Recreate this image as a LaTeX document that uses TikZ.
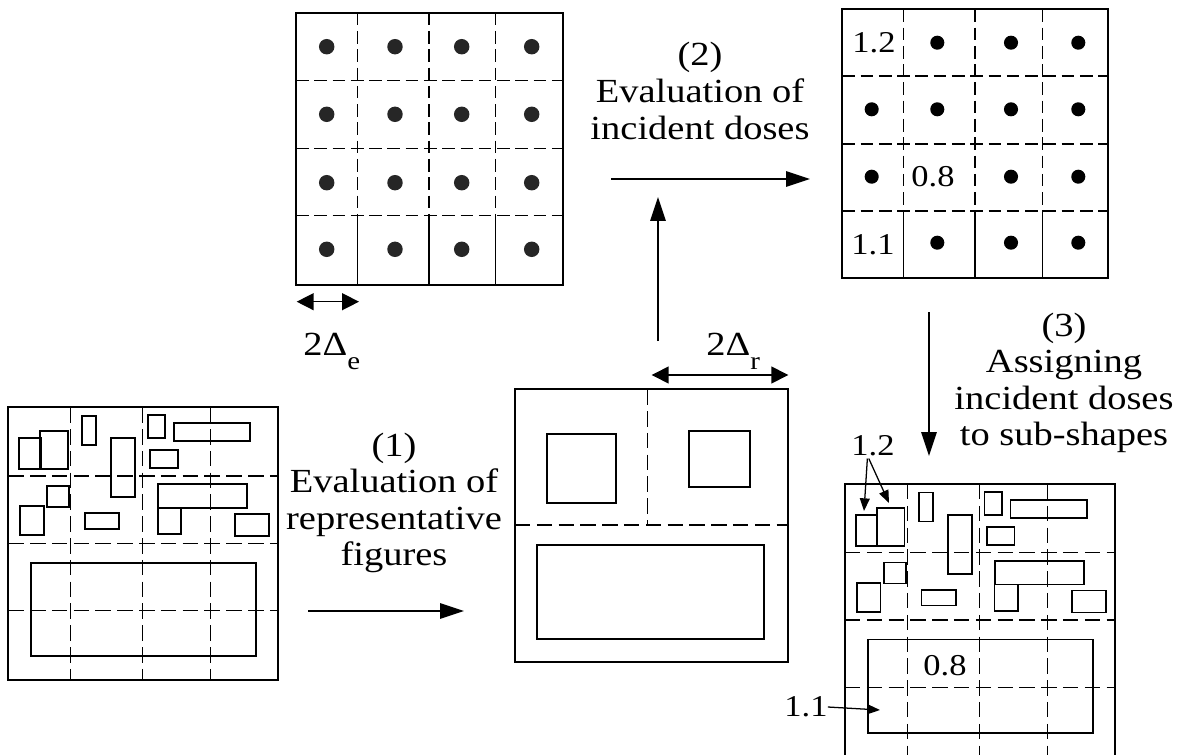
\documentclass[tikz,border=0pt]{standalone}
\usepackage{fontspec}
\setmainfont{Liberation Serif}[FakeStretch=1.14]
\usetikzlibrary{arrows.meta,positioning,calc}

\newcommand{\lowsub}[1]{\raisebox{-10pt}{\fontsize{18}{18}\selectfont #1}}
\newcommand{\subshapes}{%
	\draw[piece] (19,438.3) rectangle (40.7,469.3);
	\draw[piece] (40,431) rectangle (67.7,469.3);
	\draw[piece] (82,415.7) rectangle (96,444.7);
	\draw[piece] (111.3,438) rectangle (135,497);
	\draw[piece] (147.7,415) rectangle (165.3,438);
	\draw[piece] (173.7,423.3) rectangle (250,441.3);
	\draw[piece] (150.3,450.3) rectangle (177.7,468.3);
	\draw[piece] (47,485.7) rectangle (69,506.7);
	\draw[piece] (20.3,506) rectangle (43.7,535);
	\draw[piece] (84.7,513) rectangle (119,528.7);
	\draw[piece] (158.3,484) rectangle (247,507.7);
	\draw[piece] (157.7,507.7) rectangle (181,534);
	\draw[piece] (235,513.7) rectangle (269.3,535.7);
	\draw[piece] (31,562.7) rectangle (256,656);
	\foreach \x in {70.7,142.7,210.7} \draw[cut] (\x,407.3) -- (\x,680);
	\foreach \y in {476,543.3,610.7} \draw[cut] (8.3,\y) -- (278.3,\y);
	\draw[box] (8.3,407.3) rectangle (278.3,680);
}

\begin{document}
\begin{tikzpicture}[
	x=0.025cm,y=-0.025cm,
	box/.style={line width=1.3pt},
	piece/.style={line width=1.2pt},
	cut/.style={line width=1.1pt,dash pattern=on 11pt off 4.5pt},
	fine/.style={line width=1pt,dash pattern=on 9pt off 4pt},
	dot/.style={circle,fill=black!85,inner sep=0,minimum size=#1},
	dot/.default=11pt,
	flow/.style={-{Triangle[length=17pt,width=11pt]},line width=1pt},
	span/.style={{Triangle[length=12pt,width=12pt]}-{Triangle[length=12pt,width=12pt]},line width=1pt},
	tag/.style={-{Triangle[length=9pt,width=7pt]},line width=0.9pt},
	caption/.style={align=center,inner sep=0,font=\fontsize{24}{26}\selectfont},
	dose/.style={inner sep=0,font=\fontsize{21.5}{22}\selectfont},
]
\clip (0,0) rectangle (1177,755);

% grid of evaluation points
\foreach \x in {357.3,429,495.7} {
	\draw[fine] (\x,12.7) -- (\x,215.7);
	\draw[line width=1pt] (\x,215.7) -- (\x,285);
}
\foreach \y in {80.7,148.3,215.7} \draw[fine] (296,\y) -- (563.3,\y);
\draw[box] (296,12.7) rectangle (563.3,285);
\foreach \y [count=\r] in {46.7,114.3,182.7,249.3}
	\foreach \x [count=\c] in {326.7,395,461.7,531.7}
		\node[dot] (e\r\c) at (\x,\y) {};

\coordinate (e0) at (296.7,301.7);
\coordinate (e1) at (359,301.7);
\draw[span] (e0) -- (e1);
\node[caption,anchor=base west] (de) at (303,355) {2Δ\lowsub{e}};

% grid of incident doses
\foreach \x in {903.3,975,1042.3} {
	\draw[fine] (\x,9.3) -- (\x,211);
	\draw[line width=1pt] (\x,211) -- (\x,278.3);
}
\foreach \y in {76,144,211} \draw[fine] (842.3,\y) -- (1108.3,\y);
\draw[box] (842.3,9.3) rectangle (1108.3,278.3);
\foreach \y [count=\r] in {42.7,109.3,176.7,242.7}
	\foreach \x [count=\c] in {871.7,937.3,1011,1078.3} {
		\pgfmathtruncatemacro\k{10*\r+\c}
		\ifnum\k=11\else\ifnum\k=32\else\ifnum\k=41\else
			\node[dot=10pt,fill=black] (d\k) at (\x,\y) {};
		\fi\fi\fi
	}
\node[dose] (g12) at (874,43) {1.2};
\node[dose] (g08) at (933,177) {0.8};
\node[dose] (g11) at (873,245) {1.1};

% layout
\subshapes

% representative figures
\draw[cut] (647.7,389.3) -- (647.7,525);
\draw[cut] (515,525) -- (788.3,525);
\draw[piece] (546.7,434.3) rectangle (615.7,502.7);
\draw[piece] (689,430.7) rectangle (750,487.3);
\draw[piece] (536.7,545) rectangle (764,639.3);
\draw[box] (515,389.3) rectangle (788.3,661.7);

\coordinate (r0) at (651.7,375);
\coordinate (r1) at (788.3,375);
\draw[span] (r0) -- (r1);
\node[caption,anchor=base west] (dr) at (706,355) {2Δ\lowsub{r}};

% layout with assigned doses
\begin{scope}[shift={(836.7,76.7)}]
\subshapes
\draw[box] (8.3,680) -- (8.3,690) (278.3,680) -- (278.3,690);
\end{scope}
\node[dose,anchor=base] (s12) at (873,455) {1.2};
\coordinate (t1) at (864,511);
\coordinate (t2) at (889,503);
\draw[tag] ([xshift=-4pt,yshift=-2pt]s12.south) -- (t1);
\draw[tag] ([xshift=-3pt,yshift=-2pt]s12.south) -- (t2);
\node[dose] (s08) at (945,666) {0.8};
\node[dose] (s11) at (806,707) {1.1};
\coordinate (t3) at (880,710);
\draw[tag] (s11.east) -- (t3);

% steps
\coordinate (a1s) at (308,611);
\coordinate (a1e) at (464,611);
\draw[flow] (a1s) -- (a1e);
\node[caption] (c1) at (394,503) {(1)\\Evaluation of\\representative\\figures};

\coordinate (a2u) at (658,341);
\coordinate (a2t) at (658,197);
\draw[flow] (a2u) -- (a2t);
\coordinate (a2s) at (611,179);
\coordinate (a2e) at (810,179);
\draw[flow] (a2s) -- (a2e);
\node[caption] (c2) at (700,91) {(2)\\Evaluation of\\incident doses};

\coordinate (a3s) at (929,312);
\coordinate (a3e) at (929,456);
\draw[flow] (a3s) -- (a3e);
\node[caption] (c3) at (1064,383) {(3)\\Assigning\\incident doses\\to sub-shapes};
\end{tikzpicture}
\end{document}
